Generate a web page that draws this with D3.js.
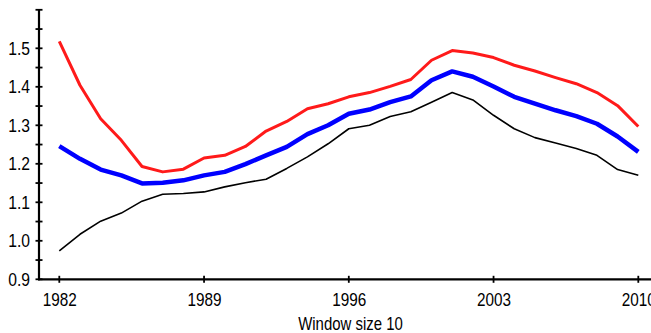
<!DOCTYPE html>
<html>
<head>
<meta charset="utf-8">
<script src="https://cdn.jsdelivr.net/npm/d3@7"></script>
<style>
  html, body { margin: 0; padding: 0; background: #fff; }
  svg { display: block; }
  text { font-family: "Liberation Sans", Arial, sans-serif; fill: #000; }
</style>
</head>
<body>
<svg id="chart" width="651" height="333"></svg>
<script>
// Annual values, 1982–2010
const years = d3.range(1982, 2011);
const redSeries = [1.518, 1.404, 1.317, 1.261, 1.193, 1.179, 1.186, 1.215, 1.222, 1.245,
                   1.285, 1.310, 1.343, 1.356, 1.374, 1.385, 1.401, 1.419, 1.469, 1.494,
                   1.488, 1.476, 1.456, 1.441, 1.424, 1.408, 1.385, 1.351, 1.297];
const blueSeries = [1.246, 1.213, 1.185, 1.170, 1.149, 1.151, 1.157, 1.170, 1.179, 1.199,
                    1.222, 1.244, 1.277, 1.300, 1.330, 1.341, 1.360, 1.375, 1.417, 1.440,
                    1.426, 1.401, 1.374, 1.356, 1.339, 1.324, 1.304, 1.271, 1.231];
const blackSeries = [0.974, 1.017, 1.051, 1.072, 1.103, 1.121, 1.123, 1.127, 1.140, 1.151,
                     1.160, 1.188, 1.218, 1.252, 1.291, 1.300, 1.323, 1.335, 1.360, 1.385,
                     1.366, 1.326, 1.291, 1.268, 1.254, 1.240, 1.222, 1.185, 1.170];
const xTickYears = [1982, 1989, 1996, 2003, 2010];
const yTickLabels = [0.9, 1.0, 1.1, 1.2, 1.3, 1.4, 1.5];
const yTickMarks = d3.range(0, 15).map(i => +(0.9 + i * 0.05).toFixed(2));
const xTitle = "Window size 10";

const svg = d3.select("#chart");
const axisX0 = 39, axisY0 = 279.3, rightEdge = 651;

const x = d3.scaleLinear().domain([1982, 2010]).range([59.3, 638.3]);
const y = d3.scaleLinear().domain([0.9, 1.6]).range([axisY0, 9.8]);

// Horizontal squeeze about a text's anchor point, for a condensed look
const squeeze = (ax, s) => `translate(${ax},0) scale(${s},1) translate(${-ax},0)`;

// Series lines
const line = d3.line().x((d, i) => x(years[i])).y(d => y(d));
const series = [
  { values: blackSeries, color: "#000000", width: 1.6 },
  { values: redSeries,   color: "#ff1a1a", width: 3 },
  { values: blueSeries,  color: "#0000ff", width: 4.5 }
];
svg.selectAll("path.series").data(series).enter().append("path")
  .attr("class", "series")
  .attr("d", s => line(s.values))
  .attr("fill", "none")
  .attr("stroke", s => s.color)
  .attr("stroke-width", s => s.width)
  .attr("stroke-linejoin", "round");

// Y axis: labels from the axis generator, crossing tick marks drawn from the scale
const yAxis = svg.append("g").attr("transform", `translate(${axisX0},0)`)
  .call(d3.axisLeft(y).tickValues(yTickLabels).tickSize(0).tickPadding(9)
    .tickFormat(d3.format(".1f")));
yAxis.select(".domain").remove();
yAxis.selectAll("text").attr("font-size", 18).attr("font-family", null)
  .attr("transform", squeeze(-9, 0.87));
svg.append("g").selectAll("line").data(yTickMarks).enter().append("line")
  .attr("x1", axisX0 - 3.5).attr("x2", axisX0 + 3.5)
  .attr("y1", d => y(d)).attr("y2", d => y(d))
  .attr("stroke", "#000").attr("stroke-width", 1.8);
svg.append("line")
  .attr("x1", axisX0).attr("x2", axisX0)
  .attr("y1", y(1.6) - 0.5).attr("y2", axisY0 + 1)
  .attr("stroke", "#000").attr("stroke-width", 2.2);

// X axis
const xAxis = svg.append("g").attr("transform", `translate(0,${axisY0})`)
  .call(d3.axisBottom(x).tickValues(xTickYears).tickSize(0).tickPadding(13.5)
    .tickFormat(d3.format("d")));
xAxis.select(".domain").remove();
xAxis.selectAll("text").attr("font-size", 18).attr("font-family", null)
  .attr("transform", squeeze(0, 0.85));
svg.append("g").selectAll("line").data(xTickYears).enter().append("line")
  .attr("x1", d => x(d)).attr("x2", d => x(d))
  .attr("y1", axisY0 - 3.5).attr("y2", axisY0 + 3.5)
  .attr("stroke", "#000").attr("stroke-width", 1.8);
svg.append("line")
  .attr("x1", axisX0 - 1).attr("x2", rightEdge)
  .attr("y1", axisY0).attr("y2", axisY0)
  .attr("stroke", "#000").attr("stroke-width", 2.2);

// Axis title
svg.append("text")
  .attr("x", 350.5).attr("y", 330)
  .attr("text-anchor", "middle")
  .attr("font-size", 18)
  .attr("transform", squeeze(350.5, 0.83))
  .text(xTitle);
</script>
</body>
</html>
